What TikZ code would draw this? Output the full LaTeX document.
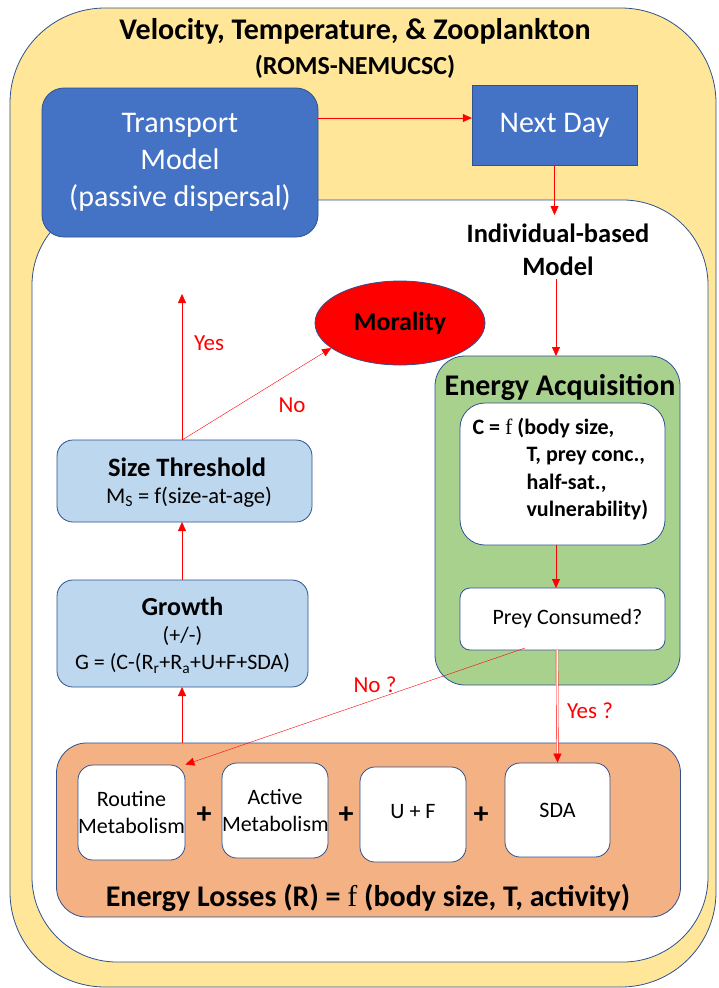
\documentclass[tikz,border=0pt]{standalone}
\usepackage{fontspec}
\setmainfont{Carlito}
\newfontfamily\serf{Liberation Serif}
\usetikzlibrary{arrows.meta,shapes.geometric}
\definecolor{fondjaune}{HTML}{FFE699}
\definecolor{bordbleu}{HTML}{2F528F}
\definecolor{bleu}{HTML}{4472C4}
\definecolor{bleuclair}{HTML}{BDD7EE}
\definecolor{vert}{HTML}{A9D18E}
\definecolor{orange}{HTML}{F4B183}
\begin{document}
\begin{tikzpicture}[x=1pt,y=-1pt]
\tikzset{boitebleue/.style={draw=bordbleu, fill=bleu, text=white, align=center, font=\fontsize{30}{37}\selectfont},
boiteclaire/.style={draw=bordbleu, fill=bleuclair, rounded corners=16, align=center, thick},
boiteblanche/.style={draw=bordbleu, fill=white, rounded corners=15, align=center, thick, font=\fontsize{22}{30}\selectfont},
fleche/.style={draw=red, -{Triangle[length=9pt,width=8pt]}},
etiq/.style={text=red, font=\fontsize{23}{26}\selectfont},
plus/.style={font=\bfseries\fontsize{30}{30}\selectfont}}
\useasboundingbox (0,0) rectangle (718,988);
\draw[fill=fondjaune, draw=bordbleu, thick, rounded corners=95] (10,8) rectangle (716,987);
\draw[fill=white, draw=bordbleu, thick, rounded corners=85] (32,200) rectangle (708,962);
\node[font=\bfseries\fontsize{30}{34}\selectfont] (T1) at (355,31) {Velocity, Temperature, \& Zooplankton};
\node[font=\bfseries\fontsize{26}{30}\selectfont] (T2) at (355,67) {(ROMS-NEMUCSC)};
\node[boitebleue, rounded corners=22, thick, minimum width=276, minimum height=149] (TM) at (180,162.5) {Transport\\Model\\(passive dispersal)};
\node[boitebleue, minimum width=165, minimum height=80] (ND) at (554.5,125) {Next Day};
\node[align=center, font=\bfseries\fontsize{26.5}{33}\selectfont] (IBM) at (558,250) {Individual-based\\Model};
\node[draw=bordbleu, thick, fill=vert, rounded corners=30, minimum width=245, minimum height=329] (EA) at (557.5,520.5) {};
\node[font=\bfseries\fontsize{30}{34}\selectfont] (EAt) at (560,387) {Energy Acquisition};
\node[boiteblanche, rounded corners=25, minimum width=205, minimum height=142] (CB) at (562.5,474) {};
\node[anchor=west, align=left, font=\bfseries\fontsize{22}{27.3}\selectfont] (CT) at (469,469) {C = {\serf\mdseries f} (body size,\\\hspace*{54pt}T, prey conc.,\\\hspace*{54pt}half-sat.,\\\hspace*{54pt}vulnerability)};
\node[boiteblanche, rounded corners=10, minimum width=205, minimum height=62] (PC) at (562.5,619) {\hspace*{10pt}Prey Consumed?};
\node[draw=bordbleu, thick, fill=orange, rounded corners=30, minimum width=624, minimum height=174] (EL) at (368.5,830) {};
\node[font=\bfseries\fontsize{30}{34}\selectfont] (ELt) at (368,898) {Energy Losses (R) = {\serf\mdseries f} (body size, T, activity)};
\node[boiteblanche, minimum width=107, minimum height=95, text width=107, inner sep=0pt] (RM) at (131.5,812.5) {Routine\\[-3pt]Metabolism};
\node[boiteblanche, minimum width=106, minimum height=95, text width=106, inner sep=0pt] (AM) at (275,810.5) {\raisebox{14pt}{}Active\\[-3pt]Metabolism\\[8pt]};
\node[boiteblanche, minimum width=106, minimum height=95] (UF) at (413,814.5) {\raisebox{6pt}{U + F}};
\node[boiteblanche, minimum width=105, minimum height=94] (SDA) at (557.5,810) {SDA};
\node[plus] (P1) at (204,815) {+};
\node[plus] (P2) at (346,815) {+};
\node[plus] (P3) at (481,815) {+};
\node[boiteclaire, minimum width=251, minimum height=107] (GR) at (182.5,633.5) {};
\node[font=\bfseries\fontsize{26}{30}\selectfont] (GRt) at (182.5,606) {Growth};
\node[align=center, font=\fontsize{22}{27}\selectfont] (GRf) at (182.5,650) {(+/-)\\G = (C-(R\textsubscript{r}+R\textsubscript{a}+U+F+SDA)};
\node[boiteclaire, minimum width=255, minimum height=82] (ST) at (184.5,481) {};
\node[font=\bfseries\fontsize{26.5}{30}\selectfont] (STt) at (187,467) {Size Threshold};
\node[font=\fontsize{22.5}{26}\selectfont] (STf) at (189,497) {M\textsubscript{S} = f(size-at-age)};
\node[ellipse, draw=bordbleu, thick, fill=red, minimum width=170, minimum height=84, font=\bfseries\fontsize{26}{30}\selectfont] (MO) at (400,323) {Morality};
\coordinate (HY) at (182,294);
\coordinate (TMa) at (318,118);
\coordinate (PCn) at (525,648);
\draw[fleche] (TMa) -- (TMa -| ND.west);
\draw[fleche] (ND.south) -- (554.5,215);
\draw[fleche] (IBM.south -| 556,0) -- (556,356);
\draw[fleche] (556,545) -- (556,588);
\draw[fleche, double=white, double distance=1.5pt] (557,650) -- (SDA.north);
\draw[fleche] (PCn) -- (RM.north east);
\draw[fleche, thick] (182,743) -- (182,687);
\draw[fleche] (182,580) -- (182,522);
\draw[fleche] (182,440) -- (HY);
\draw[fleche] (182,440) -- (MO.200);
\node[etiq] (LY) at (209,343) {Yes};
\node[etiq] (LN) at (292,405) {No};
\node[etiq] (LN2) at (375,685) {No ?};
\node[etiq] (LY2) at (590,711) {Yes ?};
\end{tikzpicture}
\end{document}
